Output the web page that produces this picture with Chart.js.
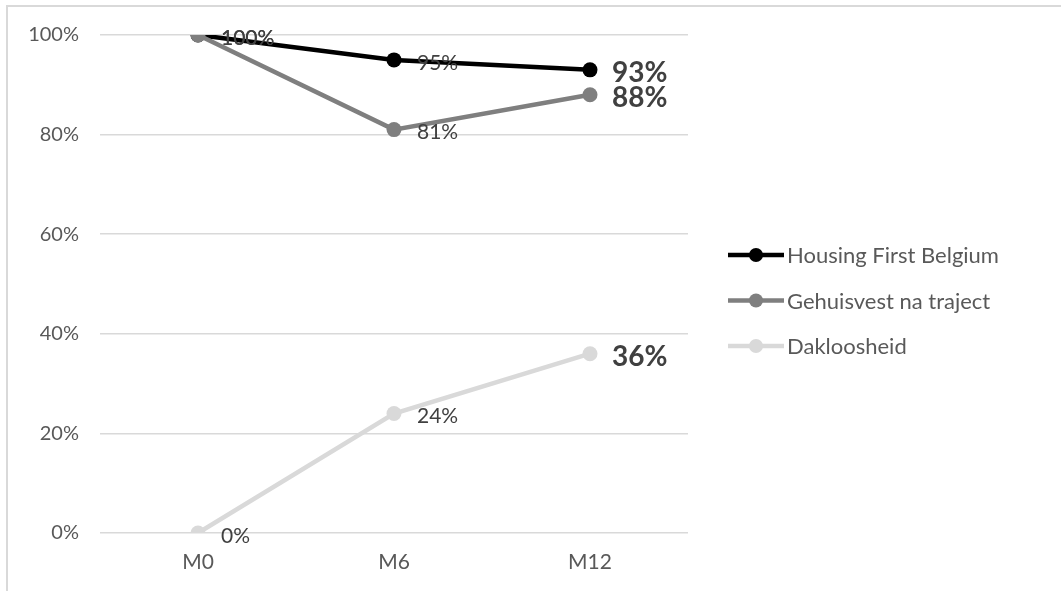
<!DOCTYPE html>
<html><head><meta charset="utf-8">
<script src="https://cdn.jsdelivr.net/npm/chart.js@4"></script>
<style>
html,body{margin:0;padding:0;background:#fff;width:1061px;height:591px;overflow:hidden}
#frame{position:absolute;left:6px;top:5px;width:1100px;height:640px;border-top:2px solid #d9d9d9;border-left:2px solid #d9d9d9}
#wrap{position:absolute;left:0;top:0;width:1061px;height:591px}
</style></head>
<body><div id="frame"></div><div id="wrap"><canvas id="c" width="1061" height="591"></canvas></div>
<script>
const categories = ['M0', 'M6', 'M12'];
const seriesNames = ['Housing First Belgium', 'Gehuisvest na traject', 'Dakloosheid'];
const housingFirst = [100, 95, 93];
const gehuisvest = [100, 81, 88];
const dakloosheid = [0, 24, 36];
const yTickValues = [0, 20, 40, 60, 80, 100];
const seriesColors = ['#000000', '#7f7f7f', '#d9d9d9'];

const FONT = 'Lato, "Open Sans", sans-serif';

const labelPlugin = {
  id: 'valueLabels',
  afterDatasetsDraw(chart) {
    const ctx = chart.ctx;
    ctx.save();
    chart.data.datasets.forEach((ds, di) => {
      const meta = chart.getDatasetMeta(di);
      meta.data.forEach((pt, i) => {
        const last = i === ds.data.length - 1;
        ctx.font = (last ? 'bold 28px ' : '21px ') + FONT;
        ctx.fillStyle = '#404040';
        ctx.textAlign = 'left';
        ctx.textBaseline = 'middle';
        ctx.fillText(ds.data[i] + '%', pt.x + (last ? 22 : 23), pt.y + 3);
      });
    });
    ctx.restore();
  }
};

const legendPlugin = {
  id: 'sideLegend',
  afterDraw(chart) {
    const ctx = chart.ctx;
    ctx.save();
    chart.data.datasets.forEach((ds, i) => {
      const y = 255 + i * 45.5;
      ctx.strokeStyle = ds.borderColor;
      ctx.lineWidth = 4.5;
      ctx.beginPath();
      ctx.moveTo(728, y);
      ctx.lineTo(784, y);
      ctx.stroke();
      ctx.fillStyle = ds.borderColor;
      ctx.beginPath();
      ctx.arc(756, y, 7, 0, Math.PI * 2);
      ctx.fill();
      ctx.font = '22px ' + FONT;
      ctx.fillStyle = '#595959';
      ctx.textAlign = 'left';
      ctx.textBaseline = 'middle';
      ctx.fillText(ds.label, 787, y + 1);
    });
    ctx.restore();
  }
};

const seriesData = [housingFirst, gehuisvest, dakloosheid];
const datasets = seriesData.map((d, i) => ({
  label: seriesNames[i],
  data: d,
  borderColor: seriesColors[i],
  backgroundColor: seriesColors[i],
  pointBackgroundColor: seriesColors[i],
  pointBorderColor: seriesColors[i],
  pointBorderWidth: 0,
  pointRadius: 7.5,
  borderWidth: 4.5,
  tension: 0,
  fill: false,
  order: 3 - i
}));

new Chart(document.getElementById('c'), {
  type: 'line',
  data: { labels: categories, datasets },
  options: {
    responsive: false,
    animation: false,
    events: [],
    layout: { padding: { left: 6, top: 35, right: 373, bottom: 0 } },
    plugins: { legend: { display: false }, tooltip: { enabled: false } },
    scales: {
      x: {
        offset: true,
        grid: { display: false, drawTicks: false },
        border: { display: false },
        ticks: { color: '#595959', font: { family: FONT, size: 21 }, padding: 17 },
        afterFit(s) { s.height = 58; }
      },
      y: {
        min: 0, max: 100,
        afterBuildTicks(s) { s.ticks = yTickValues.map(v => ({ value: v })); },
        grid: { color: '#d9d9d9', lineWidth: 1.5, drawTicks: false },
        border: { display: false },
        ticks: { color: '#595959', font: { family: FONT, size: 20 }, padding: 21, callback: v => v + '%' },
        afterFit(s) { s.width = 94; }
      }
    }
  },
  plugins: [labelPlugin, legendPlugin]
});
</script>
</body></html>
